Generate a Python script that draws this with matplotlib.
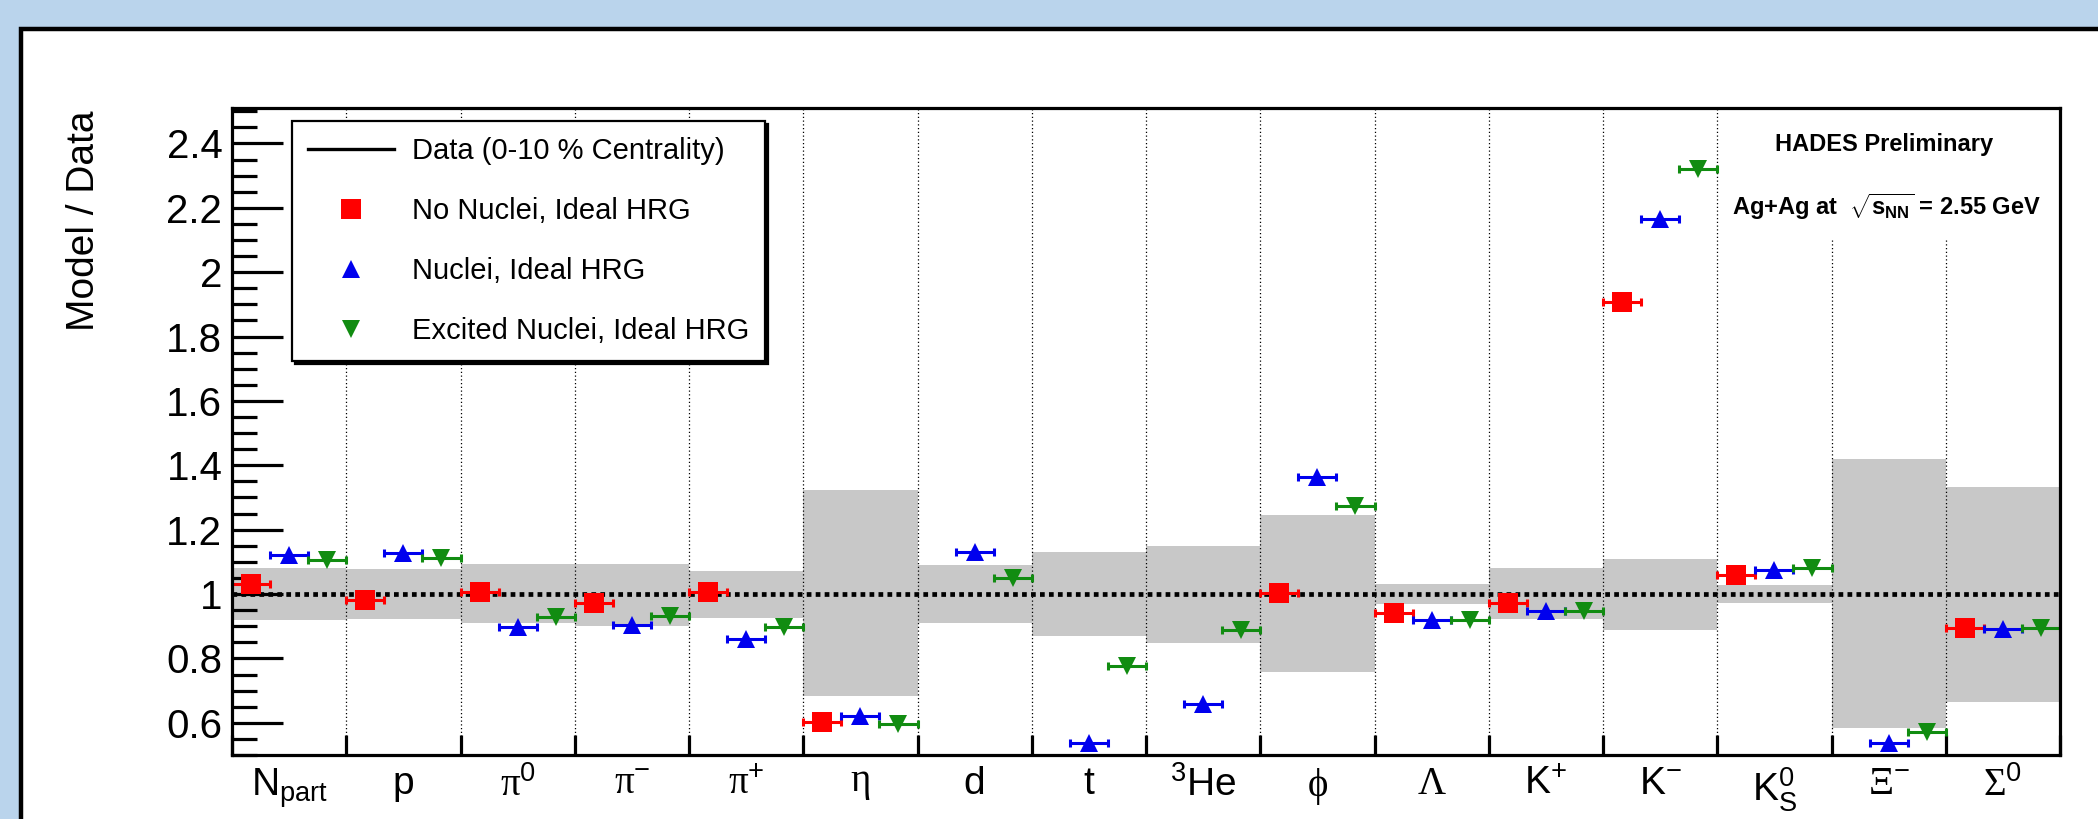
import numpy as np
import matplotlib
matplotlib.use("Agg")
import matplotlib.pyplot as plt
from matplotlib.patches import Rectangle
from matplotlib.lines import Line2D
from matplotlib.ticker import MultipleLocator, FuncFormatter

plt.rcParams['font.family'] = ['Liberation Sans', 'DejaVu Sans']
plt.rcParams['mathtext.fontset'] = 'custom'
plt.rcParams['mathtext.rm'] = 'Liberation Sans'
plt.rcParams['mathtext.it'] = 'Liberation Sans:italic'
plt.rcParams['mathtext.bf'] = 'Liberation Sans:bold'
plt.rcParams['mathtext.sf'] = 'Liberation Serif'

# particle species (one bin each)
categories = ['Npart', 'p', 'pi0', 'pi-', 'pi+', 'eta', 'd', 't', '3He',
              'phi', 'Lambda', 'K+', 'K-', 'K0S', 'Xi-', 'Sigma0']
tick_labels = [r'N$_{\mathrm{part}}$', 'p', r'$\mathsf{\pi}^{0}$', r'$\mathsf{\pi}^{-}$',
               r'$\mathsf{\pi}^{+}$', r'$\mathsf{\eta}$', 'd', 't', r'$^{3}$He',
               r'$\mathsf{\phi}$', r'$\mathsf{\Lambda}$', r'K$^{+}$', r'K$^{-}$',
               r'K$^{0}_{\mathrm{S}}$', r'$\mathsf{\Xi}^{-}$', r'$\mathsf{\Sigma}^{0}$']

# data uncertainty band (relative to data = 1)
band_low = [0.920, 0.922, 0.910, 0.900, 0.926, 0.683, 0.911, 0.869,
            0.849, 0.757, 0.968, 0.922, 0.887, 0.971, 0.584, 0.664]
band_high = [1.081, 1.077, 1.093, 1.093, 1.072, 1.322, 1.089, 1.132,
             1.149, 1.245, 1.032, 1.082, 1.110, 1.029, 1.419, 1.333]

# model / data ratios
no_nuclei = [1.030, 0.980, 1.007, 0.973, 1.007, 0.603, np.nan, np.nan,
             np.nan, 1.004, 0.941, 0.971, 1.906, 1.058, np.nan, 0.893]
nuclei = [1.120, 1.128, 0.897, 0.904, 0.859, 0.621, 1.132, 0.538,
          0.659, 1.364, 0.919, 0.947, 2.165, 1.075, 0.538, 0.892]
excited = [1.105, 1.111, 0.928, 0.932, 0.897, 0.595, 1.051, 0.778,
           0.887, 1.273, 0.919, 0.947, 2.319, 1.080, 0.571, 0.893]

series_labels = ['No Nuclei, Ideal HRG', 'Nuclei, Ideal HRG', 'Excited Nuclei, Ideal HRG']

bins = np.arange(len(categories))

fig = plt.figure(figsize=(20.98, 8.19), dpi=100, facecolor='#BAD4EC')

# white slide panel with black border
panel = Rectangle((21 / 2098, -0.05), 1.2, 1.05 - 29 / 819, transform=fig.transFigure,
                  facecolor='white', edgecolor='black', linewidth=3.2, zorder=-1)
fig.patches.append(panel)

ax = fig.add_axes([232 / 2098, 1 - 755 / 819, (2060 - 232) / 2098, (755 - 108) / 819])
ax.set_xlim(0, len(categories))
ax.set_ylim(0.5, 2.51)

# grey band for the data uncertainty
ax.bar(bins + 0.5, np.array(band_high) - np.array(band_low), bottom=band_low,
       width=1.0, color='#c8c8c8', linewidth=0, zorder=1)

# dotted bin separators
for e in range(1, len(categories)):
    ax.axvline(e, color='black', linewidth=0.9, linestyle=(0, (1, 2)), zorder=2)

# data reference line
ax.axhline(1.0, color='black', linewidth=3.4, linestyle=(0, (1, 0.9)), zorder=3)

# white box behind the preliminary label
ax.add_patch(Rectangle((0.815, 0.796), 0.185, 0.204, transform=ax.transAxes,
                       facecolor='white', edgecolor='none', zorder=2.4))

colors = ['#ff0000', '#0000ee', '#118c11']
markers = ['s', '^', 'v']
sizes = [14, 13, 13]
offsets = [1 / 6, 0.5, 5 / 6]
handles = []
for vals, col, mk, ms, off, lab in zip([no_nuclei, nuclei, excited], colors, markers,
                                       sizes, offsets, series_labels):
    x = bins + off
    ax.errorbar(x, vals, xerr=1 / 6, fmt='none', ecolor=col, elinewidth=2.2,
                capsize=3.2, capthick=2.2, zorder=4)
    h, = ax.plot(x, vals, linestyle='none', marker=mk, color=col, markersize=ms,
                 markeredgewidth=0, zorder=5, label=lab)
    handles.append(h)

# axes styling (ROOT-like)
for s in ax.spines.values():
    s.set_linewidth(2.3)
    s.set_zorder(6)

ax.yaxis.set_major_locator(MultipleLocator(0.2))
ax.yaxis.set_minor_locator(MultipleLocator(0.05))
ax.yaxis.set_major_formatter(FuncFormatter(lambda v, p: '%g' % round(v, 2)))
ax.tick_params(axis='y', which='major', direction='in', length=36.7, width=2.3,
               labelsize=29, pad=7, right=False)
ax.tick_params(axis='y', which='minor', direction='in', length=18, width=2.3, right=False)

ax.set_xticks(np.arange(0, len(categories) + 1))
ax.set_xticks(bins + 0.5, minor=True)
ax.set_xticklabels(tick_labels, minor=True)
ax.tick_params(axis='x', which='major', direction='in', length=14.4, width=2.3,
               labelbottom=False, top=False)
ax.tick_params(axis='x', which='minor', length=0, labelsize=28, pad=8)

ax.set_ylabel('Model / Data', fontsize=28)
ax.yaxis.set_label_coords(-0.071, 0.825)

# legend
data_handle = Line2D([], [], color='black', linewidth=2.4)
leg = ax.legend([data_handle] + handles, ['Data (0-10 % Centrality)'] + series_labels,
                loc='upper left', bbox_to_anchor=(0.0328, 0.98), borderaxespad=0,
                fontsize=21, frameon=True, fancybox=False, edgecolor='black',
                framealpha=1, shadow={'color': 'black', 'alpha': 1},
                handlelength=2.95, handletextpad=0.6, labelspacing=1.1, borderpad=0.55)
leg.get_frame().set_linewidth(1.6)
leg.set_zorder(7)

# preliminary labels
ax.text(0.904, 0.943, 'HADES Preliminary', transform=ax.transAxes, fontsize=17,
        fontweight='bold', ha='center', va='center', zorder=7)
ax.text(0.905, 0.847, r'Ag+Ag at  $\sqrt{\mathbf{s}_{\mathbf{NN}}}$ = 2.55 GeV',
        transform=ax.transAxes, fontsize=17, fontweight='bold', ha='center',
        va='center', zorder=7)

fig.savefig('out.png', dpi=100, facecolor=fig.get_facecolor())
